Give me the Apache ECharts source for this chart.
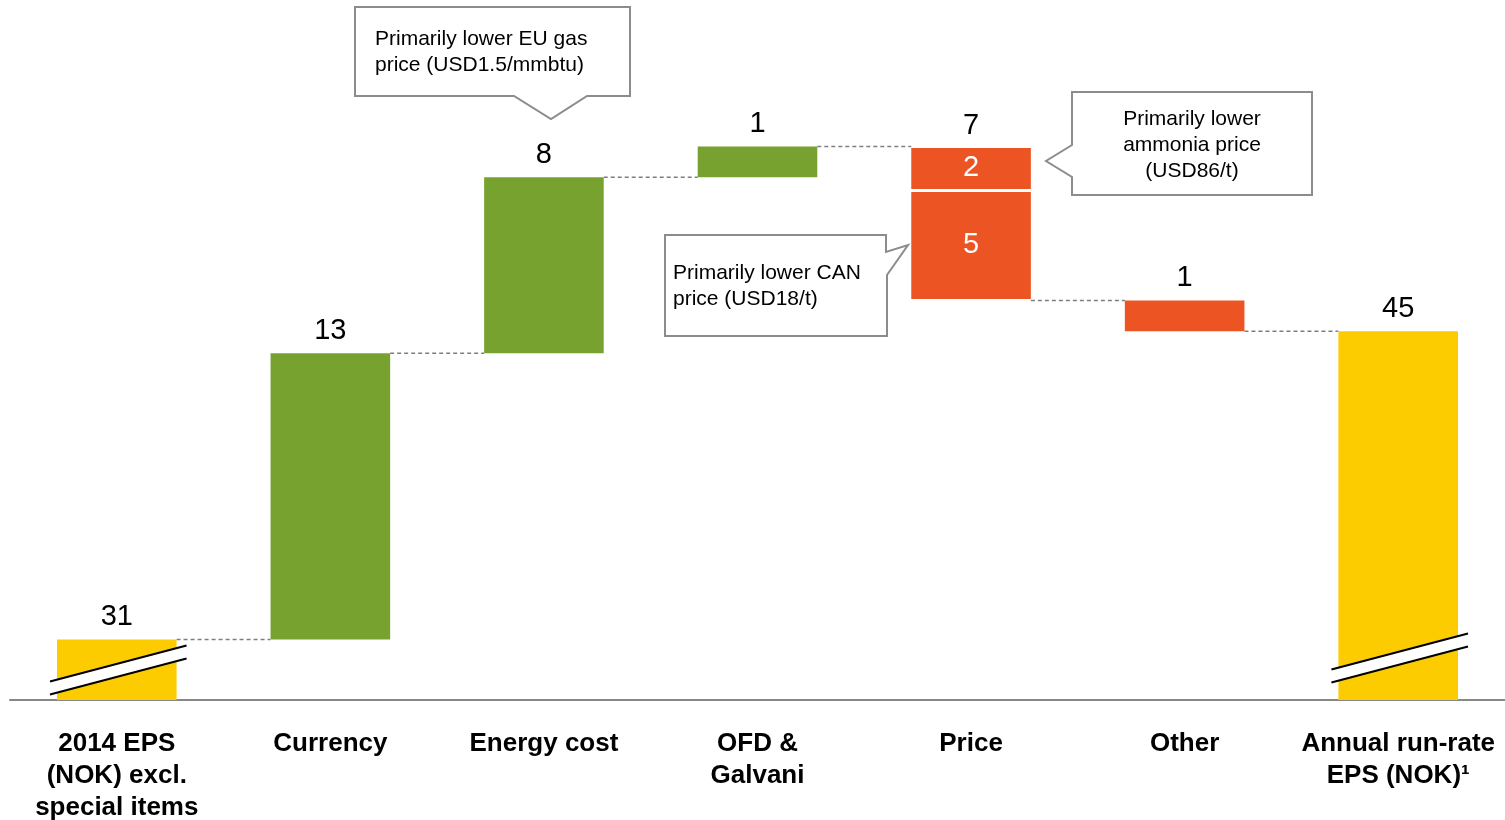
<!DOCTYPE html>
<html>
<head>
<meta charset="utf-8">
<script src="https://cdn.jsdelivr.net/npm/echarts@6/dist/echarts.min.js"></script>
<style>
  html, body { margin: 0; padding: 0; background: #fff; }
  #chart { width: 1505px; height: 820px; }
</style>
</head>
<body>
<div id="chart"></div>
<script>
// waterfall data
const categories = ['2014 EPS\n(NOK) excl.\nspecial items', 'Currency', 'Energy cost', 'OFD &\nGalvani', 'Price', 'Other', 'Annual run-rate\nEPS (NOK)¹'];
const startValue = 31;
const stepValues = [13, 8, 1.4, -7, -1.4];
const endValue = 45;
const priceParts = [2, 5];   // upper, lower part of the price drop

const yMin = 28.25, yMax = 60.05;   // broken axis
const COLORS = { total: '#fccc00', up: '#78a22f', down: '#ec5424' };
const FONT = '"Liberation Sans", Arial, sans-serif';

// build bar rows from the values
let bars = [];
let levels = [];
bars.push({ x: 0, lo: yMin, hi: startValue, kind: 'total', top: String(startValue), brk: 30 });
let level = startValue;
levels.push([0, level]);
stepValues.forEach(function (v, k) {
  let i = k + 1;
  let lo = Math.min(level, level + v), hi = Math.max(level, level + v);
  let kind = v > 0 ? 'up' : 'down';
  let label = String(Math.round(Math.abs(v)));
  if (categories[i] === 'Price') {
    let t = hi;
    priceParts.forEach(function (p, j) {
      bars.push({ x: i, lo: t - p, hi: t, kind: kind, inside: String(p), top: j === 0 ? label : '' });
      t -= p;
    });
  } else {
    bars.push({ x: i, lo: lo, hi: hi, kind: kind, top: label });
  }
  level += v;
  levels.push([i, level]);
});
bars.push({ x: 6, lo: yMin, hi: endValue, kind: 'total', top: String(endValue), brk: 42 });

function renderBar(params, api) {
  const b = bars[params.dataIndex];
  const w = api.size([1, 0])[0] * 0.56;
  const pLo = api.coord([b.x, b.lo]);
  const pHi = api.coord([b.x, b.hi]);
  let y0 = pHi[1], y1 = pLo[1];
  if (b.inside) { y0 += 1.5; y1 -= 1.5; }
  const left = pLo[0] - w / 2;
  let children = [{
    type: 'rect',
    shape: { x: left, y: y0, width: w, height: y1 - y0 },
    style: { fill: COLORS[b.kind] }
  }];
  if (b.inside) {
    children.push({
      type: 'text', x: pLo[0], y: (y0 + y1) / 2,
      style: { text: b.inside, fill: '#fff', font: '29px ' + FONT, align: 'center', verticalAlign: 'middle' }
    });
  }
  if (b.top) {
    children.push({
      type: 'text', x: pLo[0], y: y0 - 22,
      style: { text: b.top, fill: '#000', font: '29px ' + FONT, align: 'center', verticalAlign: 'middle' }
    });
  }
  if (b.brk) {
    const base = pLo[1] - b.brk;
    const xL = left - 7, xR = left + w + 10;
    const yL = base + 18, yR = base - 18;
    children.push({
      type: 'polygon',
      shape: { points: [[xL, yL - 6.5], [xR, yR - 6.5], [xR, yR + 6.5], [xL, yL + 6.5]] },
      style: { fill: '#fff' }
    });
    children.push({ type: 'line', shape: { x1: xL, y1: yL - 6.5, x2: xR, y2: yR - 6.5 }, style: { stroke: '#000', lineWidth: 2 } });
    children.push({ type: 'line', shape: { x1: xL, y1: yL + 6.5, x2: xR, y2: yR + 6.5 }, style: { stroke: '#000', lineWidth: 2 } });
  }
  return { type: 'group', children: children };
}

function renderConnector(params, api) {
  const w = api.size([1, 0])[0] * 0.56;
  const i = api.value(0), v = api.value(1);
  const a = api.coord([i, v]);
  const b = api.coord([i + 1, v]);
  return {
    type: 'line',
    shape: { x1: a[0] + w / 2, y1: a[1], x2: b[0] - w / 2, y2: a[1] },
    style: { stroke: '#7f7f7f', lineWidth: 1.5, lineDash: [4, 3] }
  };
}

const calloutStyle = { fill: '#fff', stroke: '#8c8c8c', lineWidth: 2 };
const textStyle = { fill: '#000', font: '21px ' + FONT, lineHeight: 26 };

var chart = echarts.init(document.getElementById('chart'));
var option = {
  animation: false,
  grid: { top: 0, bottom: 120, left: 10, right: 0, outerBoundsMode: 'none', containLabel: false },
  xAxis: {
    type: 'category',
    data: categories,
    axisTick: { show: false },
    axisLine: { lineStyle: { color: '#888', width: 2 } },
    axisLabel: {
      interval: 0,
      color: '#000',
      fontFamily: FONT,
      fontWeight: 'bold',
      fontSize: 26,
      lineHeight: 32,
      margin: 28
    }
  },
  yAxis: { type: 'value', min: yMin, max: yMax, show: false, splitLine: { show: false } },
  series: [
    {
      type: 'custom',
      renderItem: renderConnector,
      data: levels,
      encode: { x: 0, y: 1 },
      z: 1
    },
    {
      type: 'custom',
      renderItem: renderBar,
      data: bars.map(function (b) { return [b.x, b.lo, b.hi]; }),
      encode: { x: 0, y: [1, 2] },
      z: 2
    }
  ],
  graphic: [
    {
      type: 'polygon', z: 10,
      shape: { points: [[355, 7], [630, 7], [630, 96], [587, 96], [551, 119], [514, 96], [355, 96]] },
      style: calloutStyle
    },
    {
      type: 'text', z: 11, x: 375, y: 26,
      style: Object.assign({ text: 'Primarily lower EU gas\nprice (USD1.5/mmbtu)' }, textStyle)
    },
    {
      type: 'polygon', z: 10,
      shape: { points: [[1072, 92], [1312, 92], [1312, 195], [1072, 195], [1072, 177], [1046, 161], [1072, 145]] },
      style: calloutStyle
    },
    {
      type: 'text', z: 11, x: 1192, y: 106,
      style: Object.assign({ text: 'Primarily lower\nammonia price\n(USD86/t)', align: 'center' }, textStyle)
    },
    {
      type: 'polygon', z: 10,
      shape: { points: [[665, 235], [886, 235], [886, 252], [908, 245], [887, 275], [887, 336], [665, 336]] },
      style: calloutStyle
    },
    {
      type: 'text', z: 11, x: 673, y: 260,
      style: Object.assign({ text: 'Primarily lower CAN\nprice (USD18/t)' }, textStyle)
    }
  ]
};
chart.setOption(option);
</script>
</body>
</html>
